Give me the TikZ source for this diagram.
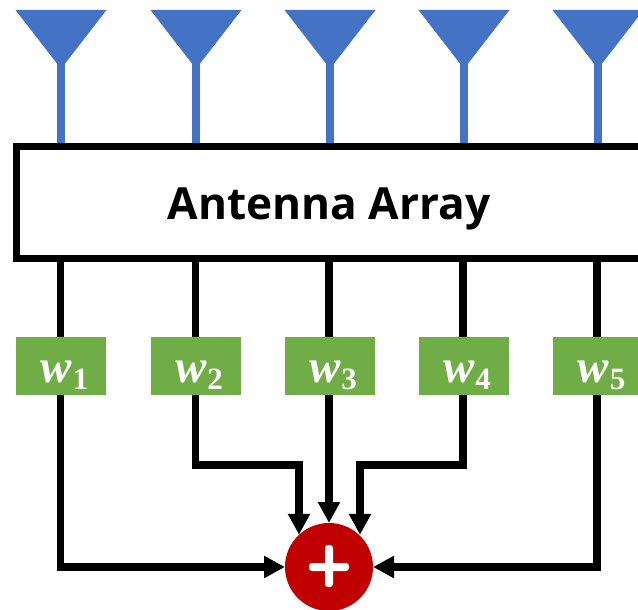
\documentclass[tikz,border=0pt]{standalone}
\usepackage{fontspec}
\setmainfont{Open Sans}
\newfontfamily\mathish{Liberation Serif}
\usetikzlibrary{arrows.meta}
\definecolor{antblue}{HTML}{4472C4}
\definecolor{wgreen}{HTML}{70AD47}
\definecolor{sumred}{HTML}{C00000}
\tikzset{
  wirestyle/.style={line width=7.4pt,draw=black},
  arrowwire/.style={wirestyle,-{Triangle[length=21pt,width=21pt]}},
  stem/.style={line width=7.4pt,draw=antblue},
  horn/.style={fill=antblue,draw=none},
  weight/.style={fill=wgreen,draw=none,minimum width=90pt,minimum height=58pt,inner sep=0pt,outer sep=0pt,text=white,text height=32pt,text depth=0pt,font=\mathish\fontsize{47pt}{47pt}\selectfont\bfseries\itshape}
}
\newcommand{\wlabel}[1]{\hspace{7pt}w\hspace{1pt}\raisebox{-7pt}{\fontsize{31pt}{31pt}\selectfont\upshape #1}}
\begin{document}
\begin{tikzpicture}[x=1pt,y=-1pt]
\useasboundingbox (0,0) rectangle (638,610);
\clip (0,0) rectangle (638,610);
% antennas
\foreach \i/\x in {1/61,2/196,3/330,4/464,5/598}{
  \coordinate (a\i) at (\x,62);
  \coordinate (b\i) at (\x,144);
  \fill[horn] (\x-45.5,10) -- (\x+45.5,10) -- (\x+3.7,64) -- (\x-3.7,64) -- cycle;
  \draw[stem] (a\i) -- (b\i);
}
% array box
\node[draw=black,line width=7pt,fill=white,minimum width=631pt,minimum height=112pt,inner sep=0pt,outer sep=0pt,anchor=north west] (arr) at (16.5,146.5) {};
\node[font=\fontsize{44.2pt}{44pt}\selectfont\bfseries] (arrlabel) at (329,208.7) {Antenna Array};
% weights
\node[weight] (w1) at (61,366) {\wlabel{1}};
\node[weight] (w2) at (195.5,366) {\wlabel{2}};
\node[weight] (w3) at (329.5,366) {\wlabel{3}};
\node[weight] (w4) at (463.5,366) {\wlabel{4}};
\node[weight] (w5) at (598,366) {\wlabel{5}};
% sum
\node[circle,fill=sumred,draw=none,minimum size=88pt,inner sep=0pt,outer sep=0pt] (sum) at (329,567) {};
\fill[white,rounded corners=3pt] (309,563) rectangle (349,571);
\fill[white,rounded corners=3pt] (325,545) rectangle (333,587);
\coordinate (j2) at (299,465);
\coordinate (j4) at (360,465);
\coordinate (j1) at (60.3,567);
\coordinate (j5) at (597,567);
% upper wires
\foreach \i/\x in {1/60.3,2/195.3,3/329,4/463,5/597}{
  \coordinate (t\i) at (\x,260);
}
\draw[wirestyle] (t1) -- (w1.north -| t1);
\draw[wirestyle] (t2) -- (w2.north -| t2);
\draw[wirestyle] (t3) -- (w3.north -| t3);
\draw[wirestyle] (t4) -- (w4.north -| t4);
\draw[wirestyle] (t5) -- (w5.north -| t5);
% lower wires
\draw[arrowwire] (w1.south -| t1) -- (j1) -- (sum.west);
\draw[arrowwire] (w5.south -| t5) -- (j5) -- (sum.east);
\draw[arrowwire] (w2.south -| t2) |- (j2) -- (j2 |- sum.133);
\draw[arrowwire] (w4.south -| t4) |- (j4) -- (j4 |- sum.47);
\draw[arrowwire] (w3.south -| t3) -- (sum.north);
\end{tikzpicture}
\end{document}
